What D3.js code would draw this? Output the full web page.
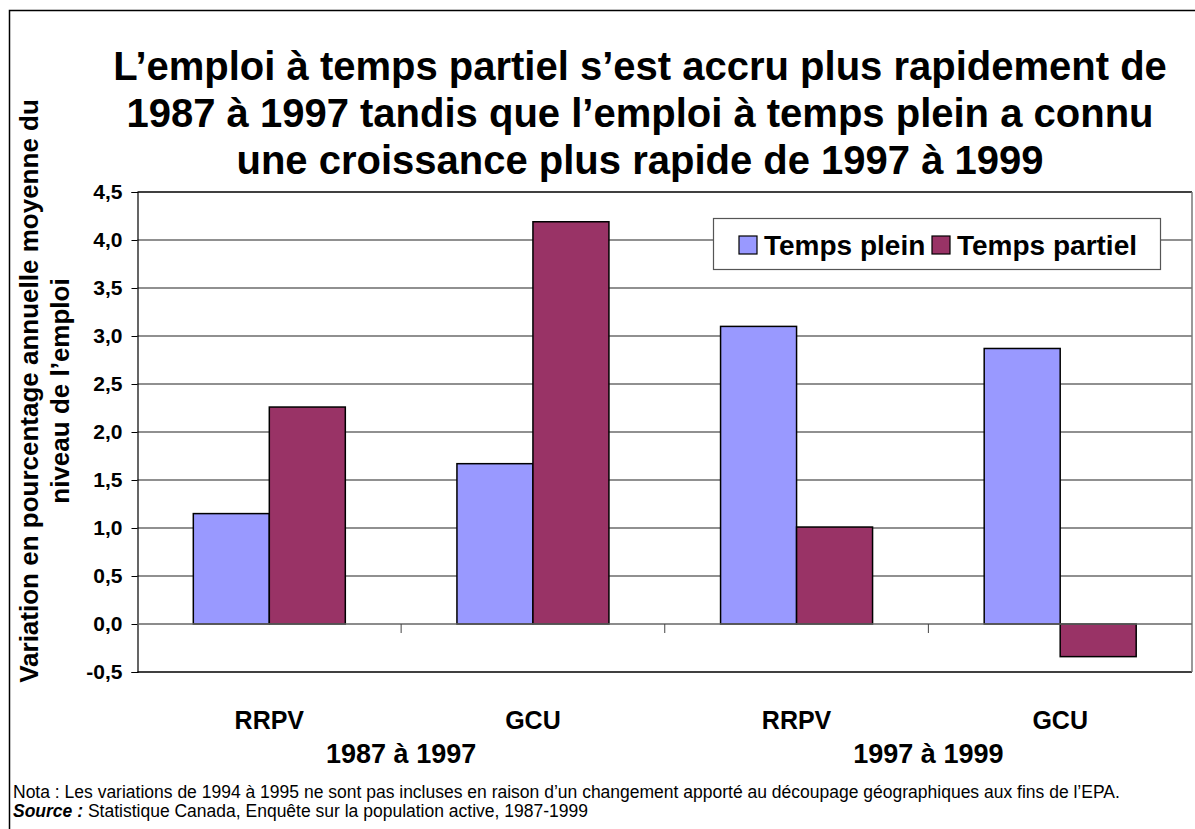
<!DOCTYPE html>
<html>
<head>
<meta charset="utf-8">
<script src="https://cdn.jsdelivr.net/npm/d3@7"></script>
<style>
  body { margin: 0; background: #fff; }
  svg { font-family: "Liberation Sans", Arial, sans-serif; }
</style>
</head>
<body>
<svg width="1195" height="829"></svg>
<script>
// Data
const categories = ['RRPV', 'GCU', 'RRPV', 'GCU'];
const periods = ['1987 à 1997', '1997 à 1999'];
const seriesNames = ['Temps plein', 'Temps partiel'];
const tempsPlein = [1.15, 1.67, 3.10, 2.87];
const tempsPartiel = [2.26, 4.19, 1.01, -0.34];
const yTicks = [-0.5, 0, 0.5, 1, 1.5, 2, 2.5, 3, 3.5, 4, 4.5];
const titleLines = [
  'L’emploi à temps partiel s’est accru plus rapidement de',
  '1987 à 1997 tandis que l’emploi à temps plein a connu',
  'une croissance plus rapide de 1997 à 1999'
];
const yTitleLines = ['Variation en pourcentage annuelle moyenne du', 'niveau de l’emploi'];
const colors = ['#9999FF', '#993366'];

const svg = d3.select('svg');

// outer frame
svg.append('rect').attr('x', 9.5).attr('y', 10.5).attr('width', 1200).attr('height', 830)
  .attr('fill', 'none').attr('stroke', '#000').attr('stroke-width', 1.5);

const plot = { left: 137.5, right: 1192, top: 192, bottom: 672 };

const x0 = d3.scaleBand().domain(d3.range(categories.length))
  .range([plot.left, plot.right]).paddingInner(0).paddingOuter(0);
const barW = 76;
const y = d3.scaleLinear().domain([-0.5, 4.5]).range([plot.bottom, plot.top]);

// gridlines
svg.append('g').selectAll('line').data(yTicks.filter(d => d !== 0 && d !== -0.5 && d !== 4.5)).join('line')
  .attr('x1', plot.left).attr('x2', plot.right)
  .attr('y1', d => y(d)).attr('y2', d => y(d))
  .attr('stroke', '#222').attr('stroke-width', 1.2);

// plot border
svg.append('line').attr('x1', plot.left).attr('x2', plot.right).attr('y1', plot.top).attr('y2', plot.top)
  .attr('stroke', '#000').attr('stroke-width', 1.5);
svg.append('line').attr('x1', plot.left).attr('x2', plot.right).attr('y1', plot.bottom).attr('y2', plot.bottom)
  .attr('stroke', '#000').attr('stroke-width', 1.5);
svg.append('line').attr('x1', plot.right).attr('x2', plot.right).attr('y1', plot.top).attr('y2', plot.bottom)
  .attr('stroke', '#777').attr('stroke-width', 1.5);

// y axis
const yAxis = svg.append('g').attr('transform', `translate(${plot.left},0)`)
  .call(d3.axisLeft(y).tickValues(yTicks).tickSize(6).tickPadding(9)
    .tickFormat(d => d3.format('.1f')(d).replace('.', ',').replace('−', '-')));
yAxis.select('.domain').attr('stroke', '#000').attr('stroke-width', 1.2);
yAxis.selectAll('.tick line').attr('stroke', '#000');
yAxis.selectAll('text').attr('font-size', 21).attr('font-weight', 'bold').attr('fill', '#000')
  .attr('font-family', '"Liberation Sans", Arial, sans-serif');

// bars
const groups = svg.append('g').selectAll('g').data(categories.map((c, i) => i)).join('g');
[tempsPlein, tempsPartiel].forEach((vals, s) => {
  groups.append('rect')
    .attr('x', i => x0(i) + x0.bandwidth() / 2 - barW + s * barW)
    .attr('width', barW)
    .attr('y', i => y(Math.max(0, vals[i])))
    .attr('height', i => Math.abs(y(vals[i]) - y(0)))
    .attr('fill', colors[s]).attr('stroke', '#000').attr('stroke-width', 1.5);
});

// zero axis line + category ticks
svg.append('line').attr('x1', plot.left).attr('x2', plot.right).attr('y1', y(0)).attr('y2', y(0))
  .attr('stroke', '#666').attr('stroke-width', 1.5);
svg.append('g').selectAll('line').data(d3.range(1, categories.length)).join('line')
  .attr('x1', i => x0(i)).attr('x2', i => x0(i))
  .attr('y1', y(0)).attr('y2', y(0) + 9)
  .attr('stroke', '#444').attr('stroke-width', 1);

// category labels
svg.append('g').selectAll('text').data(categories).join('text')
  .attr('x', (d, i) => x0(i) + x0.bandwidth() / 2).attr('y', 729)
  .attr('text-anchor', 'middle').attr('font-size', 25).attr('font-weight', 'bold').text(d => d);
svg.append('g').selectAll('text').data(periods).join('text')
  .attr('x', (d, i) => x0(i * 2 + 1)).attr('y', 763)
  .attr('text-anchor', 'middle').attr('font-size', 27).attr('font-weight', 'bold').text(d => d);

// title
svg.append('g').selectAll('text').data(titleLines).join('text')
  .attr('x', 640).attr('y', (d, i) => 80 + i * 47)
  .attr('text-anchor', 'middle').attr('font-size', 40).attr('font-weight', 'bold').text(d => d);

// y title
svg.append('g').attr('transform', 'translate(0,391) rotate(-90)')
  .selectAll('text').data(yTitleLines).join('text')
  .attr('x', 0).attr('y', (d, i) => 38 + i * 31)
  .attr('text-anchor', 'middle').attr('font-size', 26).attr('font-weight', 'bold').text(d => d);

// legend
const lg = svg.append('g');
lg.append('rect').attr('x', 713.5).attr('y', 218.5).attr('width', 447).attr('height', 51)
  .attr('fill', '#fff').attr('stroke', '#555').attr('stroke-width', 1.2);
const legendX = [739, 932];
seriesNames.forEach((n, s) => {
  lg.append('rect').attr('x', legendX[s]).attr('y', 236).attr('width', 18).attr('height', 18)
    .attr('fill', colors[s]).attr('stroke', '#000').attr('stroke-width', 1.2);
  lg.append('text').attr('x', legendX[s] + 25).attr('y', 255)
    .attr('font-size', 28).attr('font-weight', 'bold').text(n);
});

// notes
svg.append('text').attr('x', 13).attr('y', 798).attr('font-size', 17.5)
  .text('Nota : Les variations de 1994 à 1995 ne sont pas incluses en raison d’un changement apporté au découpage géographiques aux fins de l’EPA.');
const src = svg.append('text').attr('x', 13).attr('y', 817).attr('font-size', 17.5);
src.append('tspan').attr('font-weight', 'bold').attr('font-style', 'italic').text('Source :');
src.append('tspan').text(' Statistique Canada, Enquête sur la population active, 1987-1999');
</script>
</body>
</html>
